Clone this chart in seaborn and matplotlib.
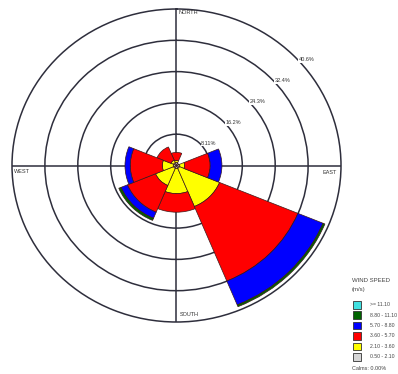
import numpy as np
import pandas as pd
import matplotlib
matplotlib.use("Agg")
import matplotlib.pyplot as plt
from matplotlib.patches import Rectangle
import seaborn as sns

# ---- data -------------------------------------------------------------
directions = ["N", "NE", "E", "SE", "S", "SW", "W", "NW"]
bearings = [0, 45, 90, 135, 180, 225, 270, 315]          # degrees, clockwise from north
speed_classes = ["0.50 - 2.10", "2.10 - 3.60", "3.60 - 5.70",
                 "5.70 - 8.80", "8.80 - 11.10", ">= 11.10"]
class_colors = ["#d6d6d6", "#ffff00", "#ff0000", "#0000ff", "#006400", "#40e0e0"]

# frequency of occurrence (%) for each speed class, in direction order
freq_050_210 = [0.8, 0.6, 0.8, 0.8, 0.8, 0.8, 0.8, 0.8]
freq_210_360 = [0.5, 0.0, 1.2, 10.7, 6.5, 4.8, 2.7, 0.7]
freq_360_570 = [2.1, 0.0, 6.3, 20.9, 4.8, 7.5, 7.9, 3.7]
freq_570_880 = [0.0, 0.0, 2.9, 6.7, 0.0, 1.7, 1.3, 0.0]
freq_880_1110 = [0.0, 0.0, 0.0, 0.5, 0.0, 0.6, 0.0, 0.0]
freq_ge_1110 = [0.0, 0.0, 0.0, 0.0, 0.0, 0.0, 0.0, 0.0]

ring_values = [8.11, 16.22, 24.33, 32.44, 40.55]
ring_labels = ["8.11%", "16.2%", "24.3%", "32.4%", "40.6%"]
compass_names = ["NORTH", "EAST", "SOUTH", "WEST"]
calms_pct = 0.00

# ---- long table -----------------------------------------------------------
freqs = [freq_050_210, freq_210_360, freq_360_570,
         freq_570_880, freq_880_1110, freq_ge_1110]
rows = []
for cls, vals in zip(speed_classes, freqs):
    for d, b, v in zip(directions, bearings, vals):
        rows.append({"direction": d, "bearing": b, "speed": cls, "freq": v})
df = pd.DataFrame(rows)
df["speed"] = pd.Categorical(df["speed"], categories=speed_classes, ordered=True)
df = df.sort_values(["direction", "speed"])
df["top"] = df.groupby("direction")["freq"].cumsum()
df["bottom"] = df["top"] - df["freq"]

# ---- style ----------------------------------------------------------------
sns.set_style("white")
plt.rcParams["font.family"] = ["Liberation Sans", "DejaVu Sans"]
palette = dict(zip(speed_classes, sns.color_palette(class_colors)))
grid_col = "#2e2e3c"

W, H = 398, 374
fig = plt.figure(figsize=(W / 100, H / 100), dpi=100)
fig.patch.set_facecolor("white")

cx, cy, rx, ry = 176.5, 165.5, 164.5, 156.5
ax = fig.add_axes([(cx - rx) / W, 1 - (cy + ry) / H, 2 * rx / W, 2 * ry / H],
                  projection="polar")
ax.set_aspect("auto")
ax.set_theta_zero_location("N")
ax.set_theta_direction(-1)
ax.set_facecolor("white")

width = np.deg2rad(45)
for cls in speed_classes:
    sub = df[df["speed"] == cls]
    sub = sub[sub["freq"] > 0]
    if sub.empty:
        continue
    ax.bar(np.deg2rad(sub["bearing"].to_numpy()), sub["freq"].to_numpy(),
           width=width, bottom=sub["bottom"].to_numpy(),
           color=palette[cls], edgecolor="#3a1a1a", linewidth=0.5, zorder=3)

ax.set_ylim(0, ring_values[-1])
ax.set_yticks(ring_values[:-1])
ax.set_yticklabels([])
ax.set_xticks(np.deg2rad([0, 90, 180, 270]))
ax.set_xticklabels([])
ax.grid(True, color=grid_col, linewidth=1.1)
ax.spines["polar"].set_color(grid_col)
ax.spines["polar"].set_linewidth(1.1)

# ring labels
for v, lab in zip(ring_values, ring_labels):
    ax.annotate(lab, xy=(np.deg2rad(48), v), xytext=(0, 1),
                textcoords="offset pixels", ha="left", va="center",
                fontsize=4, color="#333333", zorder=5, annotation_clip=False,
                bbox=dict(facecolor="white", edgecolor="none", pad=0.3))

# compass names
rmax = ring_values[-1]
compass_pos = {
    "NORTH": (0, (2, -4), "left"),
    "EAST": (90, (-4, -6.5), "right"),
    "SOUTH": (180, (3, 7), "left"),
    "WEST": (270, (2, -5.5), "left"),
}
for name in compass_names:
    ang, off, ha = compass_pos[name]
    ax.annotate(name, xy=(np.deg2rad(ang), rmax), xytext=off,
                textcoords="offset pixels", ha=ha, va="center",
                fontsize=4, color="#333333", annotation_clip=False, zorder=5)

# ---- legend -----------------------------------------------------------------
def fx(px):
    return px / W

def fy(py):
    return 1 - py / H

fig.text(fx(352), fy(281), "WIND SPEED", fontsize=4.3, color="#444444",
         ha="left", va="center")
fig.text(fx(352), fy(289.5), "(m/s)", fontsize=4.3, color="#444444",
         ha="left", va="center")
legend_order = speed_classes[::-1]
for i, cls in enumerate(legend_order):
    yc = 304.7 + i * 10.4
    fig.add_artist(Rectangle((fx(352.5), fy(yc + 3.8)), 8.5 / W, 7.6 / H,
                             transform=fig.transFigure, facecolor=palette[cls],
                             edgecolor="#333333", linewidth=0.6))
    fig.text(fx(370.5), fy(yc), cls, fontsize=3.7, color="#444444",
             ha="left", va="center")
fig.text(fx(352), fy(304.7 + 6 * 10.4 + 1), f"Calms: {calms_pct:.2f}%",
         fontsize=4, color="#444444", ha="left", va="center")

fig.savefig("out.png", dpi=100)
